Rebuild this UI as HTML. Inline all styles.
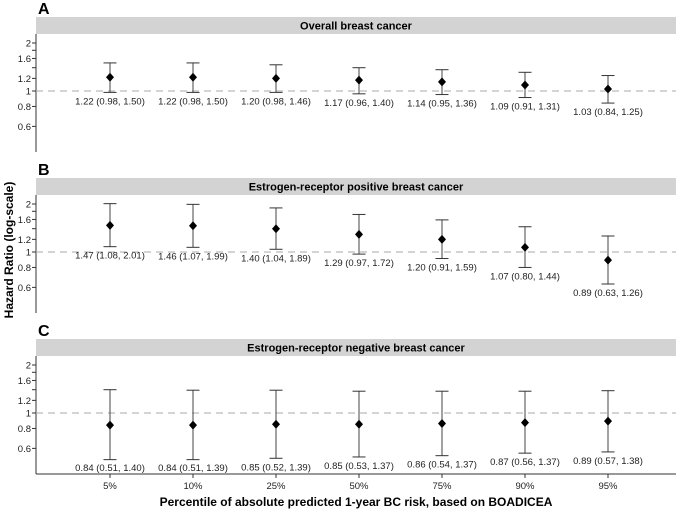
<!DOCTYPE html>
<html><head><meta charset="utf-8"><style>
body{margin:0;background:#fff;}
svg text{font-family:"Liberation Sans",Arial,sans-serif;}
</style></head><body>
<svg id="chart" width="685" height="510" xmlns="http://www.w3.org/2000/svg"></svg>
<script>
const categories=["5%","10%","25%","50%","75%","90%","95%"];
const panelLetters=["A","B","C"];
const panelTitles=["Overall breast cancer","Estrogen-receptor positive breast cancer","Estrogen-receptor negative breast cancer"];
const hrA=[1.22,1.22,1.20,1.17,1.14,1.09,1.03];
const loA=[0.98,0.98,0.98,0.96,0.95,0.91,0.84];
const hiA=[1.50,1.50,1.46,1.40,1.36,1.31,1.25];
const hrB=[1.47,1.46,1.40,1.29,1.20,1.07,0.89];
const loB=[1.08,1.07,1.04,0.97,0.91,0.80,0.63];
const hiB=[2.01,1.99,1.89,1.72,1.59,1.44,1.26];
const hrC=[0.84,0.84,0.85,0.85,0.86,0.87,0.89];
const loC=[0.51,0.51,0.52,0.53,0.54,0.56,0.57];
const hiC=[1.40,1.39,1.39,1.37,1.37,1.37,1.38];
const yTicks=[2,1.6,1.2,1,0.8,0.6];
const yTickLabels=["2","1.6","1.2","1","0.8","0.6"];
const yMinor=[1.8,1.4];
const series=[[hrA,loA,hiA],[hrB,loB,hiB],[hrC,loC,hiC]];

const svg=document.getElementById('chart');
const NS="http://www.w3.org/2000/svg";
function mk(tag,attrs,parent){const e=document.createElementNS(NS,tag);for(const k in attrs)e.setAttribute(k,attrs[k]);(parent||svg).appendChild(e);return e;}
const L=36,R=676;
function xPos(i){return 110+i*83;}
function yPos(p,v){return 91+p*161-Math.log(v)*69.25;}
const f=v=>v.toFixed(2);

for(let p=0;p<3;p++){
  const off=p*161;
  const g=mk('g',{});
  
  
  const lt=mk('text',{x:38,y:14+off,'font-size':16,'font-weight':'bold',fill:'#000'},g);lt.textContent=panelLetters[p];
  
  const st=mk('rect',{x:L,y:17+off,width:R-L,height:17,fill:'#d3d3d3'},g);
  
  const tt=mk('text',{x:(L+R)/2,y:29.5+off,'font-size':11,'font-weight':'bold','text-anchor':'middle',fill:'#000'},g);tt.textContent=panelTitles[p];
  
  const ax=mk('line',{x1:L,x2:L,y1:34+off,y2:152+off,stroke:'#333','stroke-width':1},g);
  
  yTicks.forEach((v,i)=>{const y=yPos(p,v);
    const t=mk('line',{x1:L-4,x2:L,y1:y,y2:y,stroke:'#333'},g);
    const tl=mk('text',{x:L-5,y:y+3.5,'font-size':9.5,'text-anchor':'end',fill:'#222'},g);tl.textContent=yTickLabels[i];
    });
  yMinor.forEach(v=>{const y=yPos(p,v);const t=mk('line',{x1:L-4,x2:L,y1:y,y2:y,stroke:'#333'},g);});
  const ref=mk('line',{x1:L,x2:R,y1:yPos(p,1),y2:yPos(p,1),stroke:'#aaa','stroke-dasharray':'7,5','stroke-width':1},g);
  
  const [hr,lo,hi]=series[p];
  categories.forEach((c,i)=>{
    const x=xPos(i),yl=yPos(p,lo[i]),yh=yPos(p,hi[i]),ym=yPos(p,hr[i]);
    const eg=mk('g',{},g);
    mk('line',{x1:x,x2:x,y1:yh,y2:yl,stroke:'#444'},eg);
    mk('line',{x1:x-6.5,x2:x+6.5,y1:yh,y2:yh,stroke:'#333'},eg);
    mk('line',{x1:x-6.5,x2:x+6.5,y1:yl,y2:yl,stroke:'#333'},eg);
    mk('path',{d:`M${x},${ym-4.5}L${x+4},${ym}L${x},${ym+4.5}L${x-4},${ym}Z`,fill:'#000'},eg);
    const ly=Math.min(yl+12,149+off);
    const lb=mk('text',{x:x,y:ly,'font-size':9.5,'text-anchor':'middle',fill:'#222'},eg);
    lb.textContent=`${f(hr[i])} (${f(lo[i])}, ${f(hi[i])})`;
    
  });
}
const xa=mk('line',{x1:L,x2:R,y1:474,y2:474,stroke:'#333'});

categories.forEach((c,i)=>{const x=xPos(i);
  const t=mk('line',{x1:x,x2:x,y1:474,y2:478,stroke:'#333'});
  const tl=mk('text',{x:x,y:489,'font-size':9.5,'text-anchor':'middle',fill:'#222'});tl.textContent=c;
  });
const xt=mk('text',{x:356,y:506,'font-size':12,'font-weight':'bold','text-anchor':'middle',fill:'#000'});
xt.textContent="Percentile of absolute predicted 1-year BC risk, based on BOADICEA";

const yt=mk('text',{x:0,y:0,'font-size':12,'font-weight':'bold','text-anchor':'middle',fill:'#000',transform:'translate(13,250) rotate(-90)'});
yt.textContent="Hazard Ratio (log-scale)";

</script>
</body></html>
